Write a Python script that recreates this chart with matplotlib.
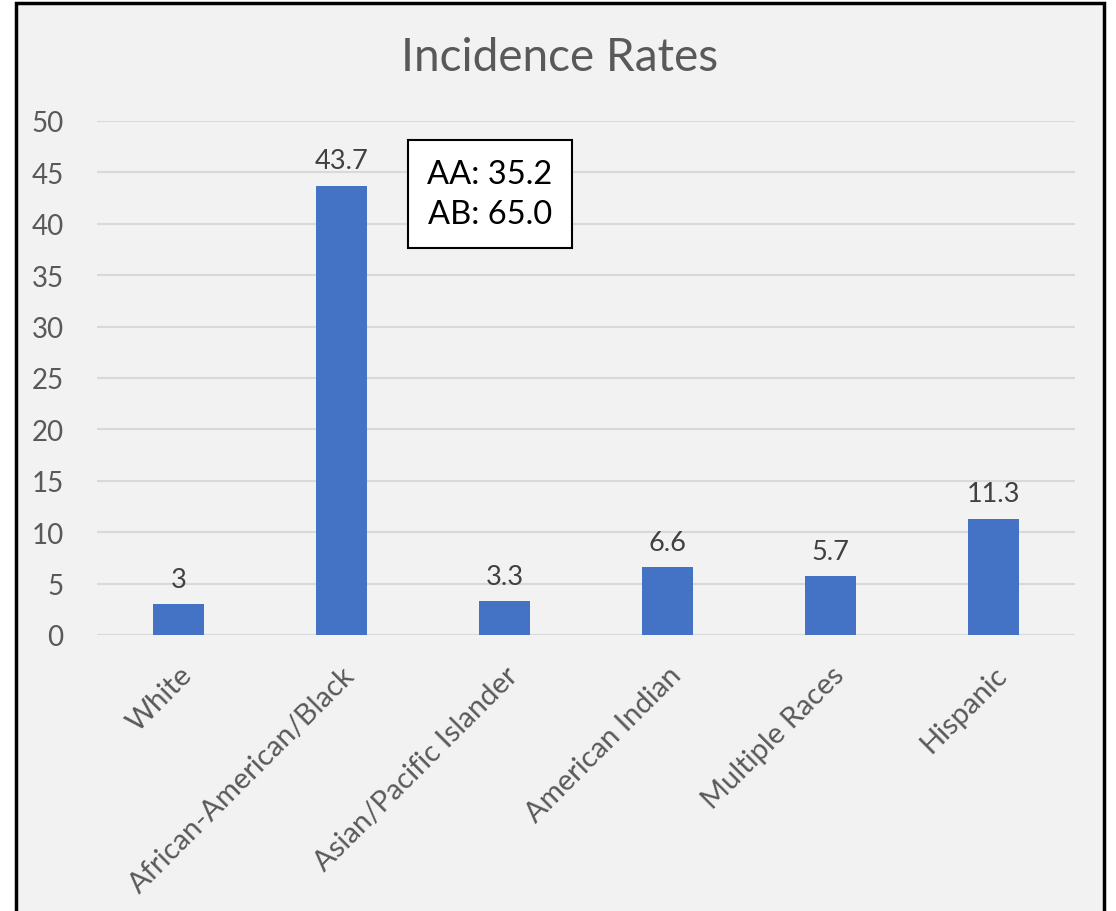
import matplotlib
matplotlib.use("Agg")
import matplotlib.pyplot as plt
from matplotlib.patches import Rectangle

plt.rcParams['font.family'] = ['Lato', 'DejaVu Sans']

# data
groups = ["White", "African-American/Black", "Asian/Pacific Islander",
          "American Indian", "Multiple Races", "Hispanic"]
rates = [3, 43.7, 3.3, 6.6, 5.7, 11.3]
rate_labels = ["3", "43.7", "3.3", "6.6", "5.7", "11.3"]
note_text = "AA: 35.2\nAB: 65.0"

fig = plt.figure(figsize=(11.16, 9.12), dpi=100)
fig.patch.set_facecolor("white")

# grey chart panel with black frame
fig.patches.append(Rectangle((16 / 1116, -0.05), 1088 / 1116, 1 - 4 / 912 + 0.05,
                             transform=fig.transFigure, facecolor="#F2F2F2",
                             edgecolor="black", linewidth=2.5, zorder=-5))

ax = fig.add_axes([97 / 1116, 1 - 636 / 912, 978 / 1116, 514 / 912])
ax.set_facecolor("none")

x = range(len(groups))
bars = ax.bar(x, rates, width=0.31, color="#4472C4", zorder=3)

for xi, v, lab in zip(x, rates, rate_labels):
    ax.text(xi, v + 1.2, lab, ha="center", va="bottom", fontsize=19.5, color="#404040")

ax.set_xlim(-0.5, 5.5)
ax.set_ylim(0, 50)
ax.set_yticks(range(0, 51, 5))
ax.grid(axis="y", color="#D9D9D9", linewidth=1.5, zorder=0)
for s in ax.spines.values():
    s.set_visible(False)
ax.tick_params(axis="both", length=0, labelsize=20, labelcolor="#595959")
ax.tick_params(axis="y", pad=24)
ax.set_xticks(list(x))
ax.set_xticklabels(groups, rotation=45, ha="right", rotation_mode="anchor",
                   fontsize=21)
ax.tick_params(axis="x", pad=19)

fig.text(560 / 1116, 1 - 58 / 912, "Incidence Rates", ha="center", va="center",
         fontsize=33, color="#595959")

fig.text(490 / 1116, 1 - 195 / 912, note_text, ha="center", va="center",
         fontsize=23.5, color="black", linespacing=1.4,
         bbox=dict(boxstyle="square,pad=0.6", facecolor="white",
                   edgecolor="black", linewidth=1.5))

fig.savefig("out.png", dpi=100)
